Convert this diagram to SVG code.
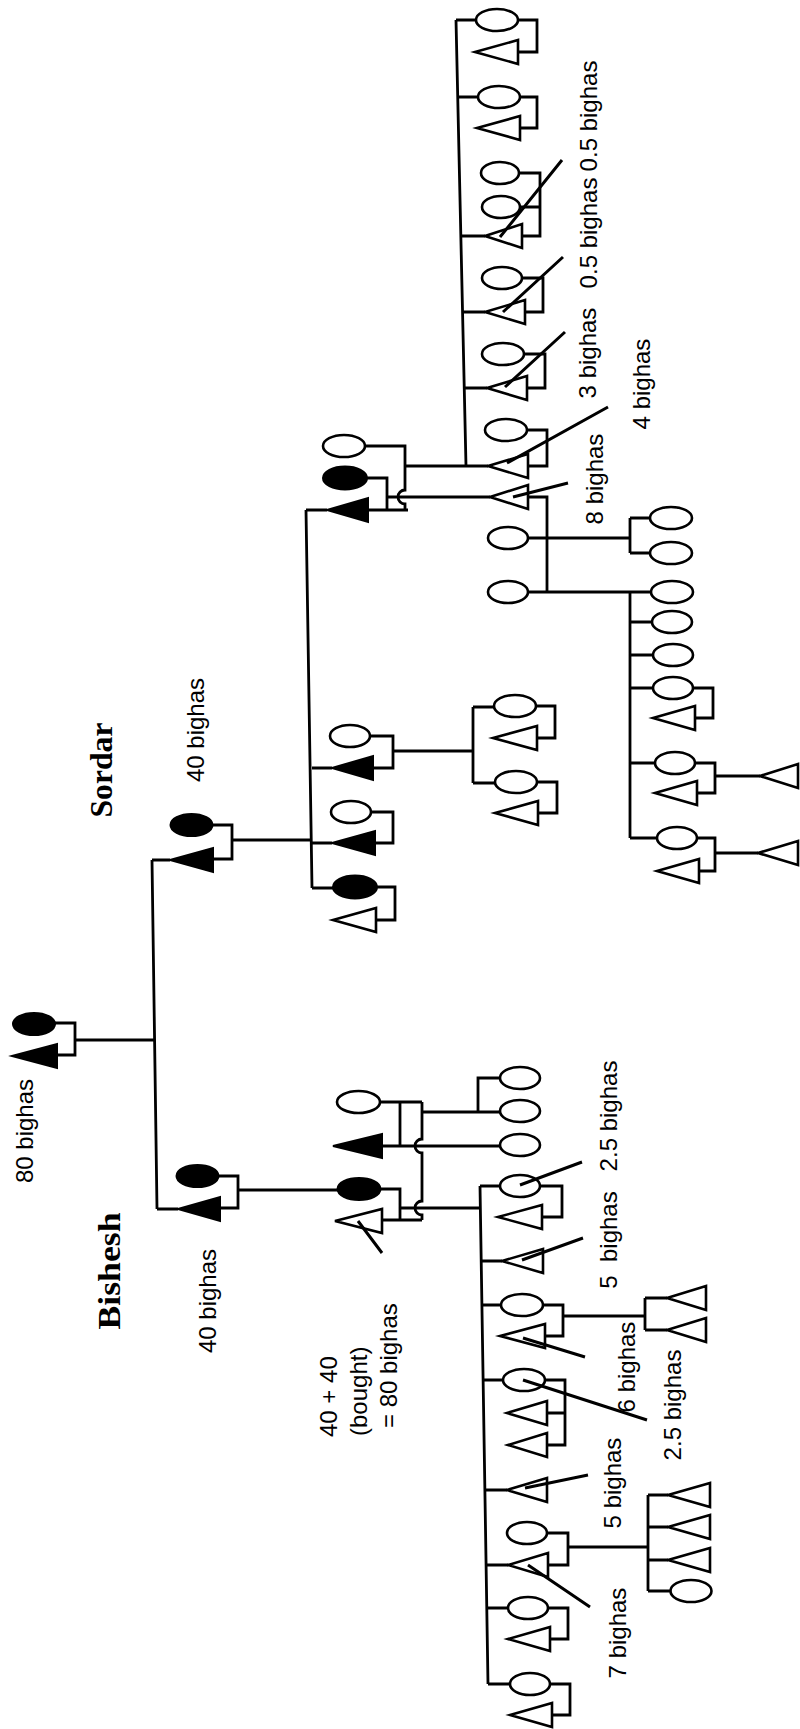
<svg xmlns="http://www.w3.org/2000/svg" width="800" height="1729" viewBox="0 0 800 1729">
<style>
.ln{fill:none;stroke:#000;stroke-width:2.8;stroke-linecap:butt}
.sl{fill:none;stroke:#000;stroke-width:3}
.o{fill:#fff;stroke:#000;stroke-width:2.6}
.f{fill:#000;stroke:#000;stroke-width:2}
.t{font-family:"Liberation Sans",Arial,sans-serif;font-size:24px;fill:#000;text-anchor:middle}
.s{font-family:"Liberation Sans",Arial,sans-serif;font-size:24px;fill:#000;text-anchor:start}
.b{font-family:"Liberation Serif","Times New Roman",serif;font-weight:bold;font-size:32px;fill:#000;text-anchor:middle}
</style>
<rect width="800" height="1729" fill="#fff"/>
<g id="connectors" class="ln">
<path d="M55,1023 H75 V1055 H57 M75,1040 H154 M152,860 L157,1209 M152,860 H170 M157,1209 H178"/>
<path d="M213,825 H232 V859 H213 M232,840 H312 M218,1176 H238 V1208 H220 M238,1190 H338"/>
<path d="M306,510 L312,888 M306,510 H327 M312,768 H332 M312,843 H332 M312,888 H333"/>
<path d="M365,446 H405 V490 A7,7 0 0 0 405,504 V510 M368,510 H408 M367,478 H387 V510 M387,497 H490 M405,466 H488"/>
<path d="M370,736 H393 V768 H373 M393,751 H473 M473,707 V783 M473,707 H494 M473,783 H495 M536,706 H555 V738 H537 M537,782 H557 V813 H538"/>
<path d="M372,812 H393 V843 H375 M377,887 H395 V920 H376"/>
<path d="M456,20 L466,466 M456,20 H476 M518,20 H537 V52 H518 M457.7,97 H478 M520,97 H537 V128 H520 M460.8,236 H485 M519,173 H540 V236 H522 M520,207 H540 M522,278 H543 V312 H525 M462.6,312 H485 M524,354 H545 V388 H527 M464.3,388 H487 M527,430 H547 V466 H528"/>
<path d="M528,497 H547 V592 H528 M528,538 H630 M630,518 V553 M630,518 H650 M630,553 H650 M547,592 H630 M630,592 V838 M630,592 H651 M630,622 H652 M630,655 H653 M630,688 H653 M693,688 H713 V718 H695 M630,763 H655 M695,763 H715 V793 H697 M715,776 H760 M630,838 H657 M697,838 H715 V871 H699 M715,853 H758"/>
<path d="M380,1102 H422 M400,1102 V1146 M382,1146 H500 M422,1102 V1139 A7,7 0 0 0 422,1153 V1201 A7,7 0 0 0 422,1215 V1220 M422,1112 H500 M478,1112 V1078 H500 M380,1189 H400 V1220 M382,1220 H422 M400,1208 H480"/>
<path d="M480,1186 L488,1684 M480,1186 H500 M540,1186 H562 V1217 H542 M481.2,1261 H502 M482,1305 H502 M543,1305 H563 V1336 H545 M563,1316 H645 M645,1298 V1330 M645,1298 H667 M645,1330 H667 M483.1,1380 H503 M545,1380 H565 V1445 H547 M547,1413 H565 M485,1490 H507 M547,1533 H568 V1565 H548 M486,1565 H508 M568,1547 H648 M648,1495 V1591 M648,1495 H668 M648,1527 H668 M648,1560 H668 M648,1591 H671 M486.8,1608 H508 M548,1608 H568 V1639 H550 M488,1684 H510 M550,1684 H570 V1715 H552"/>
</g>
<g id="root-wife"><ellipse class="f" cx="34" cy="1024" rx="21" ry="11"/></g>
<g id="root-man"><polygon class="f" points="12,1056 57,1044 57,1068"/></g>
<g id="sordar-wife"><ellipse class="f" cx="191.5" cy="825" rx="21" ry="11"/></g>
<g id="sordar"><polygon class="f" points="170,860 213,848 213,872"/></g>
<g id="bishesh-wife"><ellipse class="f" cx="197.5" cy="1176" rx="21" ry="11"/></g>
<g id="bishesh"><polygon class="f" points="178,1209 220,1197 220,1221"/></g>
<g id="s3-wife2"><ellipse class="o" cx="344" cy="446" rx="21" ry="11"/></g>
<g id="s3-wife1"><ellipse class="f" cx="345" cy="478" rx="22" ry="11.5"/></g>
<g id="s3-son"><polygon class="f" points="327,510 368,498 368,522"/></g>
<g id="s3b-wife"><ellipse class="o" cx="350" cy="736" rx="20" ry="11"/></g>
<g id="s3b-son"><polygon class="f" points="332,768 373,756 373,780"/></g>
<g id="s3c-wife"><ellipse class="o" cx="351" cy="812" rx="20" ry="11"/></g>
<g id="s3c-son"><polygon class="f" points="332,843 375,831 375,855"/></g>
<g id="s3d-dau"><ellipse class="f" cx="355" cy="887" rx="22" ry="11.5"/></g>
<g id="s3d-hus"><polygon class="o" points="333,920 376,908 376,932"/></g>
<g id="s4b-1"><ellipse class="o" cx="515" cy="706" rx="21" ry="11"/><polygon class="o" points="493,738 537,726 537,750"/></g>
<g id="s4b-2"><ellipse class="o" cx="516" cy="782" rx="21" ry="11"/><polygon class="o" points="495,813 538,801 538,825"/></g>
<g id="s4-1"><ellipse class="o" cx="497" cy="20" rx="21" ry="11"/><polygon class="o" points="475,52 518,40 518,64"/></g>
<g id="s4-2"><ellipse class="o" cx="499" cy="97" rx="21" ry="11"/><polygon class="o" points="477,128 520,116 520,140"/></g>
<g id="s4-3"><ellipse class="o" cx="500" cy="173" rx="19" ry="11"/><ellipse class="o" cx="501" cy="207" rx="19" ry="11"/><polygon class="o" points="485,236 522,224 522,248"/></g>
<g id="s4-4"><ellipse class="o" cx="502" cy="278" rx="20" ry="11"/><polygon class="o" points="485,312 525,300 525,324"/></g>
<g id="s4-5"><ellipse class="o" cx="503" cy="354" rx="21" ry="11"/><polygon class="o" points="487,388 527,376 527,400"/></g>
<g id="s4-6"><ellipse class="o" cx="506" cy="430" rx="21" ry="11"/><polygon class="o" points="488,466 528,454 528,478"/></g>
<g id="s4-7"><polygon class="o" points="490,497 528,485 528,509"/><ellipse class="o" cx="508" cy="538" rx="20" ry="11"/><ellipse class="o" cx="508" cy="592" rx="20" ry="11"/></g>
<g id="s5-a"><ellipse class="o" cx="671" cy="518" rx="21" ry="11"/><ellipse class="o" cx="671" cy="553" rx="21" ry="11"/></g>
<g id="s5-b"><ellipse class="o" cx="672" cy="592" rx="21" ry="11"/><ellipse class="o" cx="672" cy="622" rx="20" ry="11"/><ellipse class="o" cx="673" cy="655" rx="20" ry="11"/></g>
<g id="s5-c"><ellipse class="o" cx="673" cy="688" rx="20" ry="11"/><polygon class="o" points="653,718 695,706 695,730"/></g>
<g id="s5-d"><ellipse class="o" cx="675" cy="763" rx="20" ry="11"/><polygon class="o" points="655,793 697,781 697,805"/><polygon class="o" points="760,776 798,764 798,788"/></g>
<g id="s5-e"><ellipse class="o" cx="677" cy="838" rx="20" ry="11"/><polygon class="o" points="657,871 699,859 699,883"/><polygon class="o" points="758,853 798,841 798,865"/></g>
<g id="b3-wife2"><ellipse class="o" cx="358.5" cy="1102" rx="21.5" ry="11"/></g>
<g id="b3-bro"><polygon class="f" points="333,1146 382,1134 382,1158"/></g>
<g id="b3-dau"><ellipse class="f" cx="359" cy="1189" rx="21.5" ry="11"/></g>
<g id="b3-son"><polygon class="o" points="335,1221 382,1209 382,1233"/></g>
<g id="b4-daus"><ellipse class="o" cx="520" cy="1078" rx="20" ry="11"/><ellipse class="o" cx="520" cy="1111" rx="20" ry="11"/><ellipse class="o" cx="520" cy="1145" rx="20" ry="11"/></g>
<g id="b4-1"><ellipse class="o" cx="520" cy="1186" rx="20" ry="11"/><polygon class="o" points="498,1217 542,1205 542,1229"/></g>
<g id="b4-2"><polygon class="o" points="502,1261 543,1249 543,1273"/></g>
<g id="b4-3"><ellipse class="o" cx="522" cy="1305" rx="21" ry="11"/><polygon class="o" points="500,1336 545,1324 545,1348"/></g>
<g id="b5-a"><polygon class="o" points="667,1298 706,1286 706,1310"/><polygon class="o" points="667,1330 706,1318 706,1342"/></g>
<g id="b4-4"><ellipse class="o" cx="524" cy="1380" rx="21" ry="11"/><polygon class="o" points="507,1413 547,1401 547,1425"/><polygon class="o" points="508,1445 547,1433 547,1457"/></g>
<g id="b4-5"><polygon class="o" points="507,1490 547,1478 547,1502"/></g>
<g id="b4-6"><ellipse class="o" cx="527" cy="1533" rx="20" ry="11"/><polygon class="o" points="508,1565 548,1553 548,1577"/></g>
<g id="b5-b"><polygon class="o" points="668,1495 710,1483 710,1507"/><polygon class="o" points="668,1527 710,1515 710,1539"/><polygon class="o" points="668,1560 710,1548 710,1572"/><ellipse class="o" cx="691" cy="1591" rx="20.5" ry="11"/></g>
<g id="b4-7"><ellipse class="o" cx="528" cy="1608" rx="20" ry="11"/><polygon class="o" points="508,1639 550,1627 550,1651"/></g>
<g id="b4-8"><ellipse class="o" cx="530" cy="1684" rx="20" ry="11"/><polygon class="o" points="510,1715 552,1703 552,1727"/></g>
<g id="slashes" class="sl">
<path d="M500,237 L562,160 M503,312 L563,257 M505,387 L565,332 M507,463 L608,407 M513,497 L568,483"/>
<path d="M358,1221 L382,1253 M520,1185 L582,1162 M522,1260 L583,1238 M523,1338 L585,1357 M523,1380 L647,1420 M525,1488 L588,1475 M528,1565 L590,1607"/>
</g>
<g id="labels">
<text class="t" transform="translate(33,1131) rotate(-90)">80 bighas</text>
<text class="b" transform="translate(112,770) rotate(-90)" textLength="95" lengthAdjust="spacingAndGlyphs">Sordar</text>
<text class="t" transform="translate(204,730) rotate(-90)">40 bighas</text>
<text class="b" transform="translate(120,1271) rotate(-90)" textLength="117" lengthAdjust="spacingAndGlyphs">Bishesh</text>
<text class="t" transform="translate(216,1301) rotate(-90)">40 bighas</text>
<text class="s" transform="translate(337,1437) rotate(-90)">40 + 40</text>
<text class="s" transform="translate(367,1436) rotate(-90)">(bought)</text>
<text class="s" transform="translate(397,1428) rotate(-90)">= 80 bighas</text>
<text class="t" transform="translate(597,116) rotate(-90)">0.5 bighas</text>
<text class="t" transform="translate(597,233) rotate(-90)">0.5 bighas</text>
<text class="t" transform="translate(596,353) rotate(-90)">3 bighas</text>
<text class="t" transform="translate(650,384) rotate(-90)">4 bighas</text>
<text class="t" transform="translate(603,479) rotate(-90)">8 bighas</text>
<text class="t" transform="translate(617,1116) rotate(-90)">2.5 bighas</text>
<text class="t" transform="translate(617,1240) rotate(-90)" xml:space="preserve">5  bighas</text>
<text class="t" transform="translate(635,1367) rotate(-90)">6 bighas</text>
<text class="t" transform="translate(681,1405) rotate(-90)">2.5 bighas</text>
<text class="t" transform="translate(621,1483) rotate(-90)">5 bighas</text>
<text class="t" transform="translate(626,1633) rotate(-90)">7 bighas</text>
</g>
</svg>
